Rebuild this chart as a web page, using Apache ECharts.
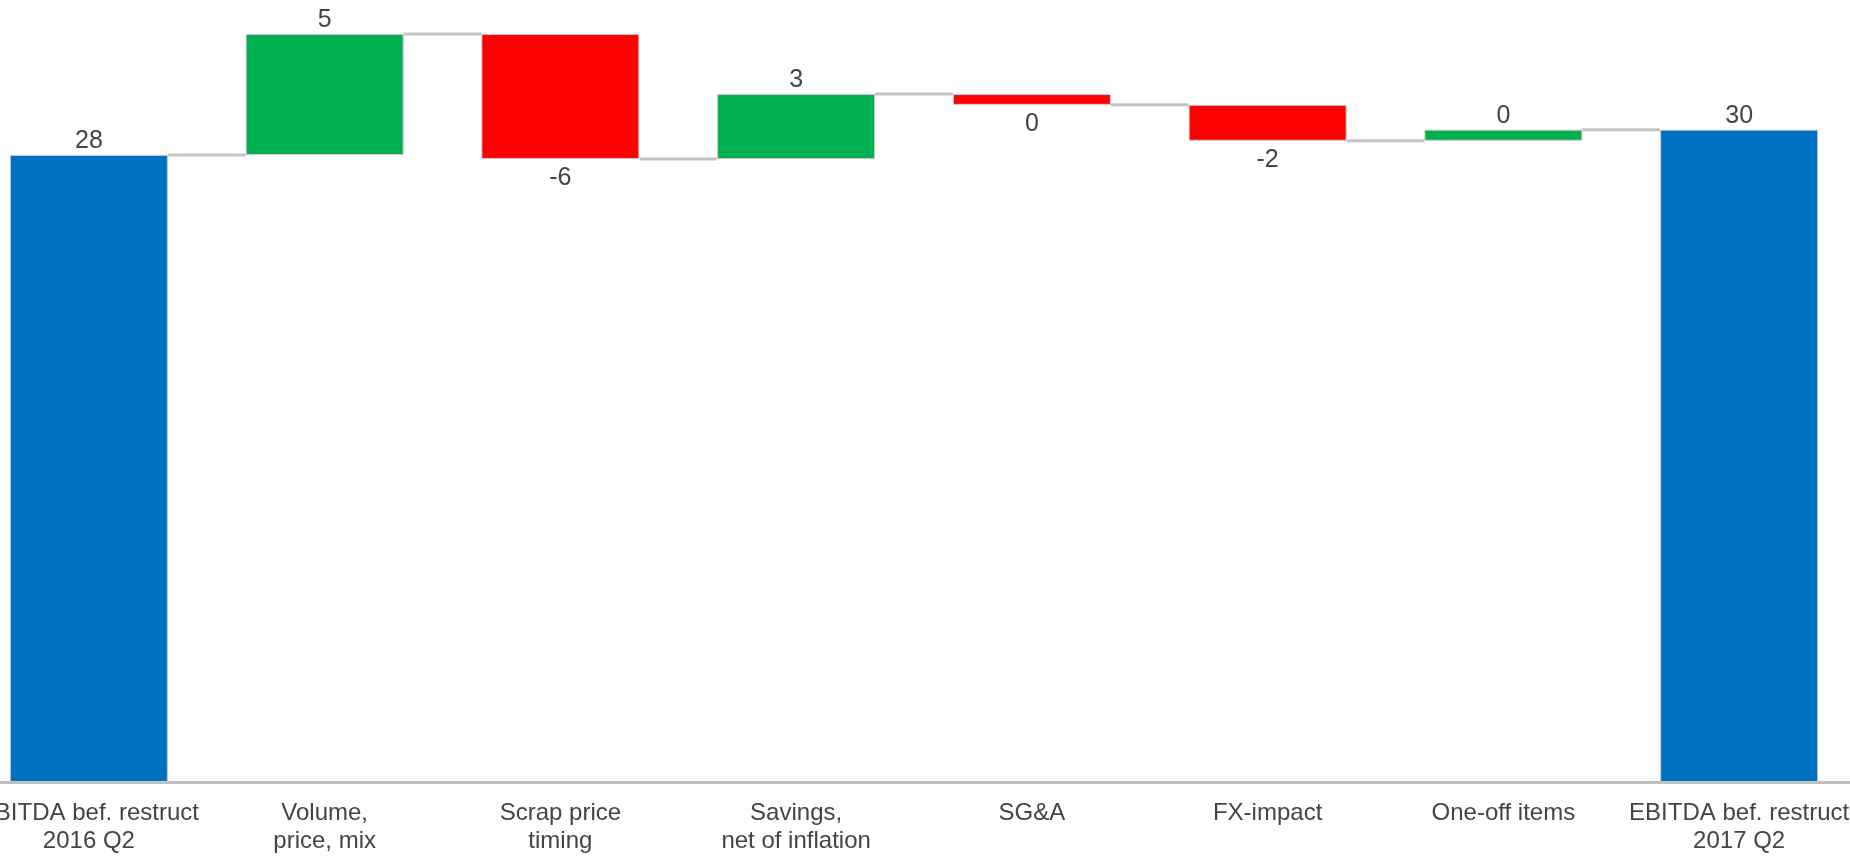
<!DOCTYPE html>
<html>
  <head>
    <meta charset="UTF-8" />
    <title></title>
    <style type="text/css">
      html,
      body {
        width: 100%;
        height: 100%;
        margin: 0;
        padding: 0;
        overflow: hidden;
        background: #fff;
        position: relative;
      }
      /* chart is a little wider than the window: first label is cut on the left */
      #chart {
        position: absolute;
        left: -29px;
        top: 0;
        width: 1886px;
        height: 856px;
      }
    </style>
  </head>
  <body>
    <div id="chart"></div>
    <script src="https://cdn.jsdelivr.net/npm/echarts@6/dist/echarts.min.js"></script>
    <script type="text/javascript">
      const categories = [
        "EBITDA bef. restruct\n2016 Q2",
        "Volume,\nprice, mix",
        "Scrap price\ntiming",
        "Savings,\nnet of inflation",
        "SG&A",
        "FX-impact",
        "One-off items",
        "EBITDA bef. restruct\n2017 Q2",
      ];
      // bar heights (labels are the rounded figures shown)
      const startValue = 28.5;
      const deltas = [5.5, -5.68, 2.95, -0.49, -1.63, 0.5];
      const endValue = 29.65;
      const labels = ["28", "5", "-6", "3", "0", "-2", "0", "30"];

      const colorTotal = "#0070c0";
      const colorUp = "#00b050";
      const colorDown = "#ff0000";

      // build stacked base + visible parts
      const baseData = [];
      const barData = [];
      const connectors = [];
      let level = startValue;
      baseData.push(0);
      barData.push({ value: startValue, itemStyle: { color: colorTotal }, label: { position: "top", distance: 1, formatter: labels[0] } });
      connectors.push([0, level]);
      deltas.forEach((d, i) => {
        const next = level + d;
        baseData.push(Math.min(level, next));
        barData.push({
          value: Math.abs(d),
          itemStyle: { color: d >= 0 ? colorUp : colorDown },
          label: {
            position: d >= 0 ? "top" : "bottom",
            distance: d >= 0 ? 1 : 7,
            formatter: labels[i + 1],
          },
        });
        level = next;
        connectors.push([i + 1, level]);
      });
      baseData.push(0);
      barData.push({ value: endValue, itemStyle: { color: colorTotal }, label: { position: "top", distance: 1, formatter: labels[7] } });

      const barRatio = 0.67;
      const chart = echarts.init(document.getElementById("chart"));
      chart.setOption({
        backgroundColor: "#fff",
        animation: false,
        grid: { left: 0, right: 0, top: 12, bottom: 74 },
        xAxis: {
          type: "category",
          data: categories,
          axisLine: { lineStyle: { color: "#c0c0c0", width: 3 } },
          axisTick: { show: false },
          axisLabel: {
            interval: 0,
            color: "#444",
            fontFamily: "Liberation Sans",
            fontSize: 24,
            lineHeight: 28,
            margin: 17,
          },
        },
        yAxis: {
          type: "value",
          min: 0,
          max: 35,
          show: false,
          splitLine: { show: false },
        },
        series: [
          {
            type: "bar",
            stack: "wf",
            barWidth: barRatio * 100 + "%",
            itemStyle: { color: "transparent" },
            data: baseData,
            silent: true,
          },
          {
            type: "bar",
            stack: "wf",
            barWidth: barRatio * 100 + "%",
            itemStyle: { borderColor: "#c8c8c8", borderWidth: 1 },
            label: {
              show: true,
              color: "#444",
              fontFamily: "Liberation Sans",
              fontSize: 25,
            },
            data: barData,
          },
          {
            type: "custom",
            z: 1,
            data: connectors,
            renderItem: function (params, api) {
              const p = api.coord([api.value(0), api.value(1)]);
              const w = api.size([1, 0])[0];
              const half = (w * barRatio) / 2;
              return {
                type: "line",
                shape: { x1: p[0] + half, y1: p[1], x2: p[0] + w - half, y2: p[1] },
                style: { stroke: "#c4c4c4", lineWidth: 3 },
              };
            },
          },
        ],
      });
    </script>
  </body>
</html>
